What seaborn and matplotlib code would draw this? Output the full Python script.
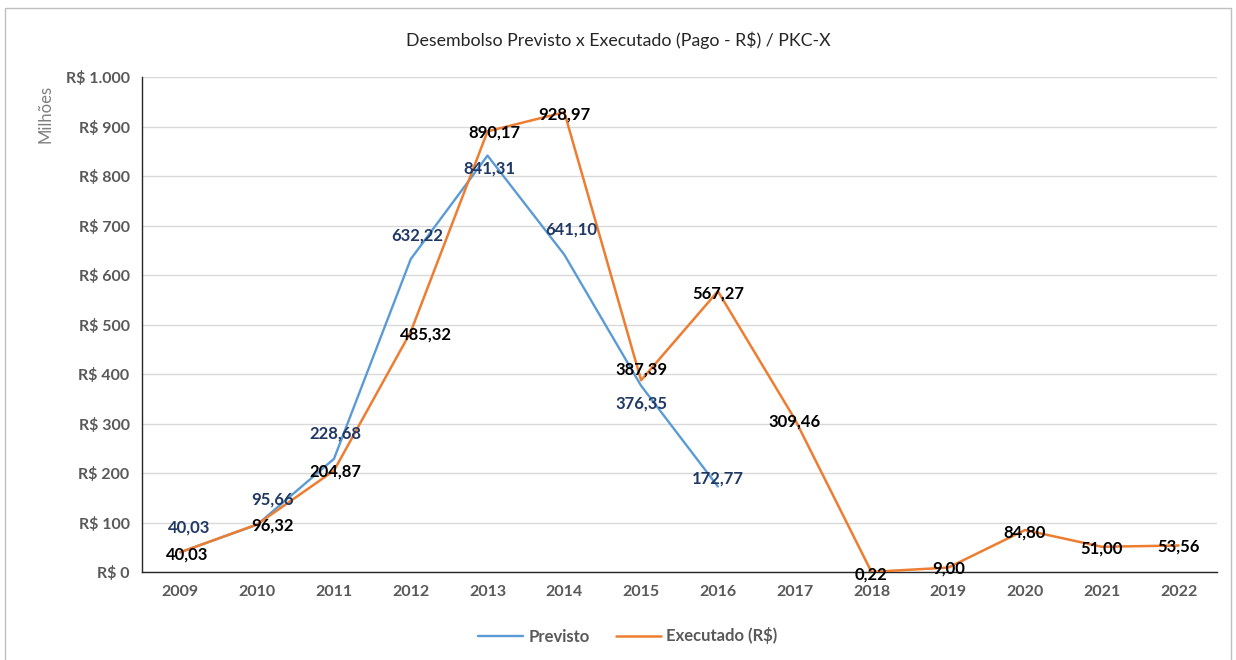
import matplotlib
matplotlib.use("Agg")
import matplotlib.pyplot as plt
import matplotlib.patches as mpatches
from matplotlib.ticker import FixedLocator, FuncFormatter
import seaborn as sns
import pandas as pd

# Annual disbursement, R$ millions
anos = [2009, 2010, 2011, 2012, 2013, 2014, 2015, 2016, 2017, 2018, 2019, 2020, 2021, 2022]
previsto = [40.03, 95.66, 228.68, 632.22, 841.31, 641.10, 376.35, 172.77]
executado = [40.03, 96.32, 204.87, 485.32, 890.17, 928.97, 387.39, 567.27,
             309.46, 0.22, 9.00, 84.80, 51.00, 53.56]
y_ticks = [0, 100, 200, 300, 400, 500, 600, 700, 800, 900, 1000]

# Label offsets (points) so the value labels do not sit on each other
off_prev = [(6, 18), (11, 18), (1, 18), (5, 17), (1, -9), (5, 18), (0, -13), (0, 6)]
off_exec = [(5, -2), (11, -1), (1, -1), (11, -2), (5, -1), (0, -2), (0, 8), (0, -2),
            (0, -2), (0, -2), (0, -1), (0, -2), (0, -1), (0, -1)]

sns.set_theme(style="white")
plt.rcParams["font.family"] = ["Lato", "DejaVu Sans"]

AZUL = "#5B9BD5"
LARANJA = "#ED7D31"
CINZA = "#595959"

fig = plt.figure(figsize=(12.36, 6.6), dpi=100)
ax = fig.add_axes([0.1149, 0.1333, 0.8697, 0.75])

df_prev = pd.DataFrame({"ano": anos[:len(previsto)], "valor": previsto})
df_exec = pd.DataFrame({"ano": anos, "valor": executado})

sns.lineplot(data=df_prev, x="ano", y="valor", ax=ax, color=AZUL, lw=1.7,
             label="Previsto", zorder=3)
sns.lineplot(data=df_exec, x="ano", y="valor", ax=ax, color=LARANJA, lw=1.8,
             label="Executado (R$)", zorder=4)

def br(v):
    return f"{v:,.2f}".replace(",", "X").replace(".", ",").replace("X", ".")

for a, v, (dx, dy) in zip(anos, previsto, off_prev):
    ax.annotate(br(v), (a, v), xytext=(dx, dy), textcoords="offset points",
                ha="center", va="center", fontsize=12, fontweight="bold",
                color="#1F3864", zorder=6)
for a, v, (dx, dy) in zip(anos, executado, off_exec):
    ax.annotate(br(v), (a, v), xytext=(dx, dy), textcoords="offset points",
                ha="center", va="center", fontsize=12, fontweight="bold",
                color="black", zorder=6)

ax.set_xlim(anos[0] - 0.5, anos[-1] + 0.5)
ax.set_ylim(0, 1000)
ax.yaxis.set_major_locator(FixedLocator(y_ticks))
ax.yaxis.set_major_formatter(FuncFormatter(
    lambda v, p: "R$ " + f"{int(v):,}".replace(",", ".")))

# Category boundaries carry the tick marks, labels sit at the centres
ax.xaxis.set_major_locator(FixedLocator([a - 0.5 for a in anos] + [anos[-1] + 0.5]))
ax.xaxis.set_major_formatter(FuncFormatter(lambda v, p: ""))
ax.xaxis.set_minor_locator(FixedLocator(anos))
ax.xaxis.set_minor_formatter(FuncFormatter(lambda v, p: str(int(round(v)))))
ax.tick_params(axis="x", which="major", direction="inout", length=10, width=1,
               color="#262626")
ax.tick_params(axis="x", which="minor", length=0, pad=9, labelsize=11.5,
               labelcolor=CINZA)
ax.tick_params(axis="y", direction="inout", length=10, width=1, color="#262626",
               labelsize=11.5, labelcolor=CINZA, pad=4)
for lab in ax.get_xticklabels(minor=True) + ax.get_yticklabels():
    lab.set_fontweight("bold")

ax.grid(axis="y", color="#D9D9D9", lw=1)
ax.set_axisbelow(True)
for s in ["top", "right"]:
    ax.spines[s].set_visible(False)
for s in ["left", "bottom"]:
    ax.spines[s].set_color("#262626")
    ax.spines[s].set_linewidth(1)

ax.set_xlabel("")
ax.set_ylabel("")
fig.text(45 / 1236, 1 - 114 / 660, "Milhões", rotation=90, ha="center",
         va="center", fontsize=12, color="#7F7F7F")
fig.text(0.5, 1 - 40 / 660, "Desembolso Previsto x Executado (Pago - R$) / PKC-X",
         ha="center", va="center", fontsize=12.8, color="#262626")

handles, labels = ax.get_legend_handles_labels()
ax.get_legend().remove()
leg = fig.legend(handles, labels, loc="center", bbox_to_anchor=(628 / 1236, 1 - 636 / 660),
                 ncol=2, frameon=False, handlelength=2.7, handletextpad=0.3,
                 columnspacing=1.6, prop={"weight": "bold", "size": 12})
for t in leg.get_texts():
    t.set_color(CINZA)

fig.patches.append(mpatches.Rectangle((5 / 1236, -0.05), 1226 / 1236, 1.05 - 8 / 660,
                                      transform=fig.transFigure, fill=False,
                                      edgecolor="#BFBFBF", lw=1))

fig.savefig("out.png", dpi=100, facecolor="white")
